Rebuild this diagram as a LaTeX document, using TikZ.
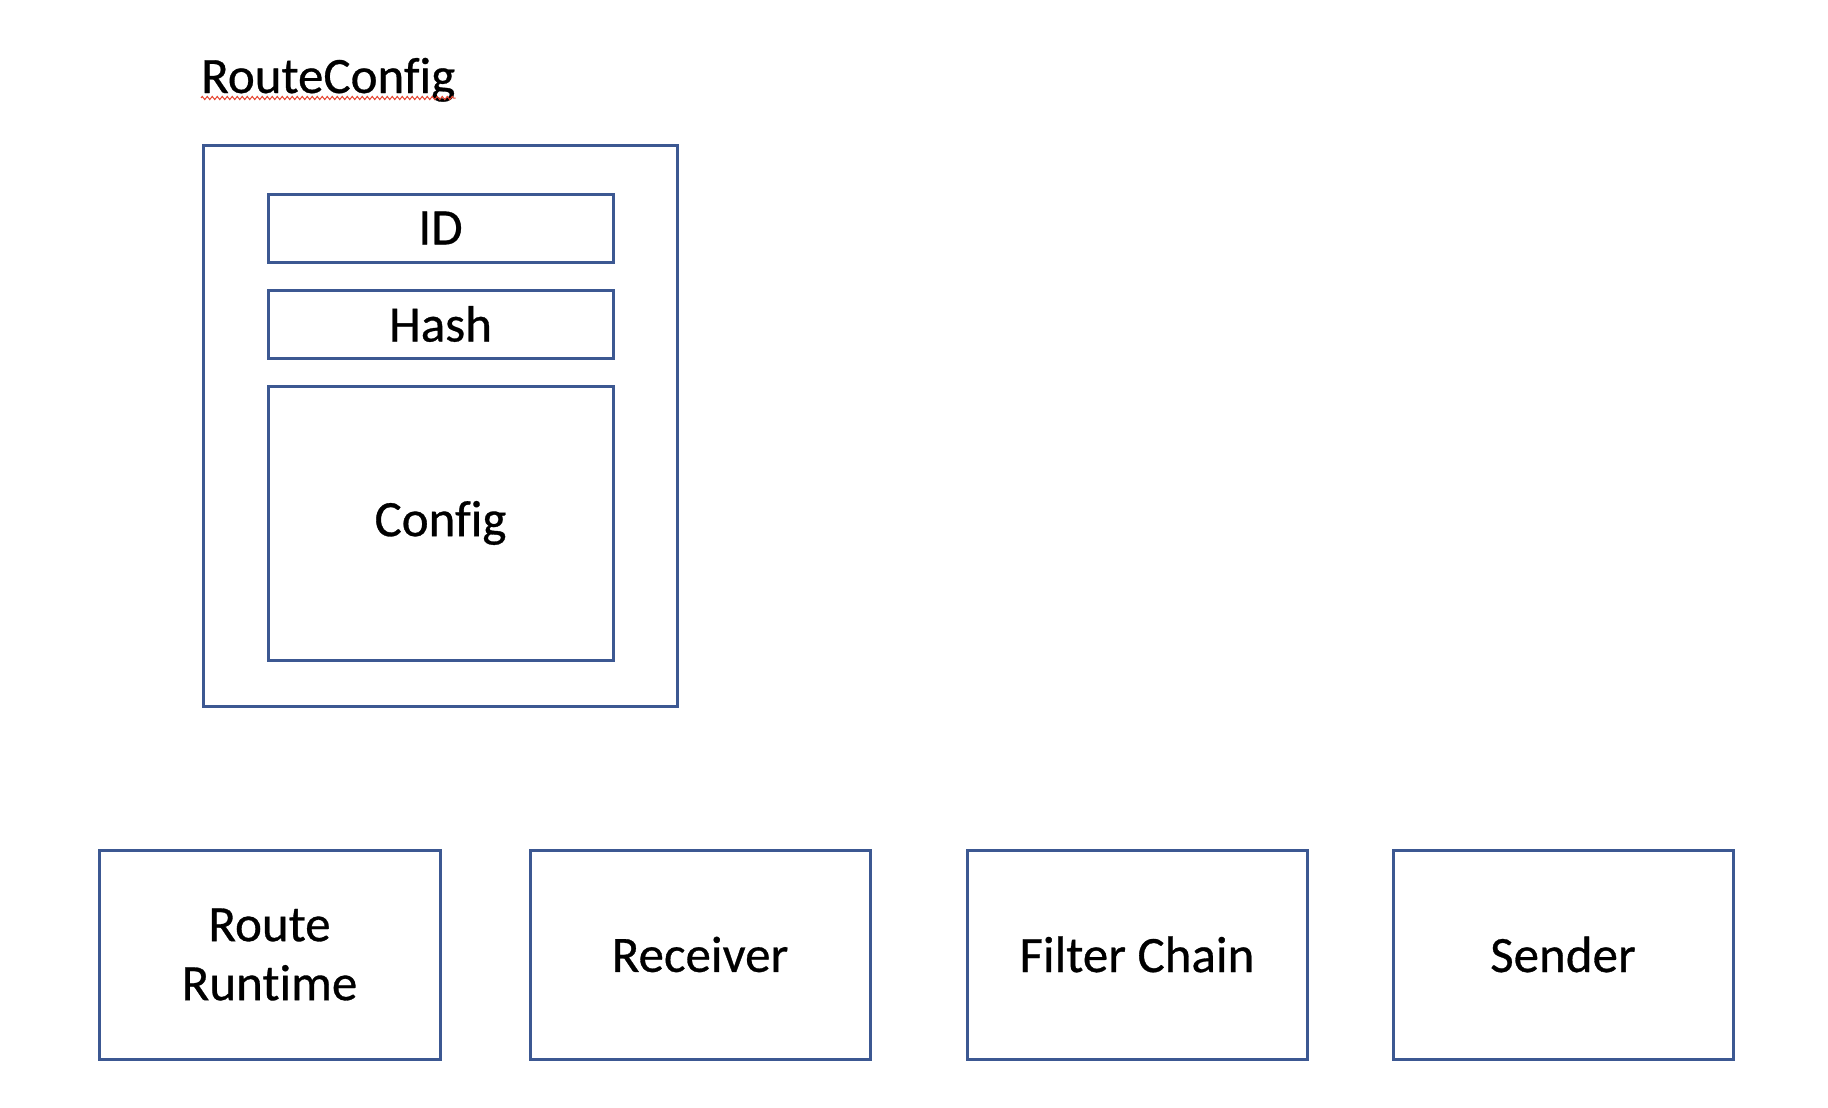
\documentclass[tikz,border=0pt]{standalone}
\usepackage{fontspec}
\setmainfont{Carlito}[Ligatures=NoCommon,FakeBold=0.6]
\usetikzlibrary{decorations.pathmorphing}
\definecolor{boxblue}{RGB}{60,88,146}
\definecolor{squig}{RGB}{230,70,50}
\begin{document}
\begin{tikzpicture}[x=1pt,y=-1pt,
  box/.style={draw=boxblue,line width=3pt,rectangle,inner sep=0pt,align=center,
    font=\fontsize{51}{59}\selectfont},
  lbl/.style={inner sep=0pt,font=\fontsize{51}{59}\selectfont}]
\useasboundingbox (0,0) rectangle (1828,1108);
\fill[white] (0,0) rectangle (1828,1108);
\node[lbl,anchor=base west] (title) at (201,93) {RouteConfig};
\draw[squig,line width=1pt,decorate,decoration={zigzag,amplitude=1.6pt,segment length=5pt}]
  ([yshift=-5pt]title.base west) -- ([yshift=-5pt]title.base east);
\node[box,minimum width=474pt,minimum height=561pt] (outer) at (440,425.5) {};
\node[box,minimum width=345pt,minimum height=68pt] (id) at (440.5,228) {ID};
\node[box,minimum width=345pt,minimum height=68pt] (hash) at (440.5,324) {Hash};
\node[box,minimum width=345pt,minimum height=274pt] (config) at (440.5,523) {Config};
\node[box,minimum width=341pt,minimum height=209pt] (runtime) at (269.5,954.5) {Route\\Runtime};
\node[box,minimum width=340pt,minimum height=209pt] (receiver) at (700,954.5) {Receiver};
\node[box,minimum width=340pt,minimum height=209pt] (filter) at (1137,954.5) {Filter Chain};
\node[box,minimum width=340pt,minimum height=209pt] (sender) at (1563,954.5) {Sender};
\end{tikzpicture}
\end{document}
